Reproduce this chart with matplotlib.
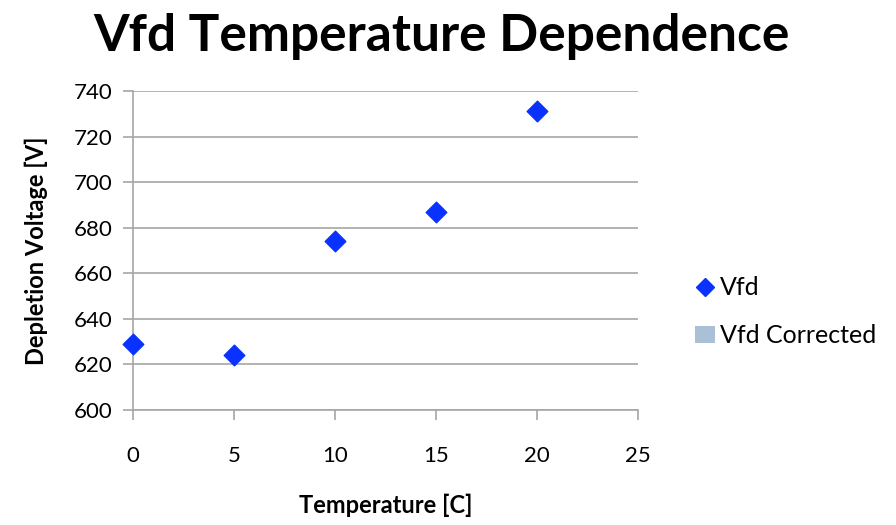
import matplotlib.pyplot as plt
from matplotlib.lines import Line2D
from matplotlib.patches import Patch

temperature = [0, 5, 10, 15, 20]
vfd = [629, 624, 674, 687, 731]
vfd_corrected = []  # empty in the source chart, only shown in legend

x_ticks = [0, 5, 10, 15, 20, 25]
y_ticks = [600, 620, 640, 660, 680, 700, 720, 740]

plt.rcParams["font.family"] = ["Lato", "DejaVu Sans"]
grid_color = "#a6a6a6"
marker_color = "#0a32ff"

fig = plt.figure(figsize=(8.96, 5.25), dpi=100)
ax = fig.add_axes([0.1484, 0.219, 0.5636, 0.6077])

ax.scatter(temperature, vfd, marker="D", s=110, color=marker_color, zorder=3,
           clip_on=False)

ax.set_xlim(0, 25)
ax.set_ylim(600, 740)
ax.set_xticks(x_ticks)
ax.set_yticks(y_ticks)
ax.tick_params(axis="both", labelsize=16, length=7, width=1.2, color=grid_color)
ax.tick_params(axis="x", pad=19)
ax.tick_params(axis="y", pad=8)
ax.yaxis.grid(True, color=grid_color, linewidth=1.2)
ax.set_axisbelow(True)
for s in ["top", "right"]:
    ax.spines[s].set_visible(False)
for s in ["left", "bottom"]:
    ax.spines[s].set_color(grid_color)
    ax.spines[s].set_linewidth(1.2)

ax.set_xlabel("Temperature [C]", fontsize=17, fontweight="bold", labelpad=20)
ax.set_ylabel("Depletion Voltage [V]", fontsize=17, fontweight="bold", labelpad=18)
fig.suptitle("Vfd Temperature Dependence", fontsize=37, fontweight="bold",
             x=0.493, y=0.975)

handles = [
    Line2D([], [], marker="D", linestyle="none", color=marker_color, markersize=9),
    Patch(facecolor="#a9c0d6", edgecolor="none"),
]
fig.legend(handles, ["Vfd", "Vfd Corrected"], loc="center left",
           bbox_to_anchor=(0.75, 0.406), frameon=False, fontsize=18,
           handlelength=0.8, handletextpad=0.2, labelspacing=1.0)

fig.savefig("out.png", dpi=100)
